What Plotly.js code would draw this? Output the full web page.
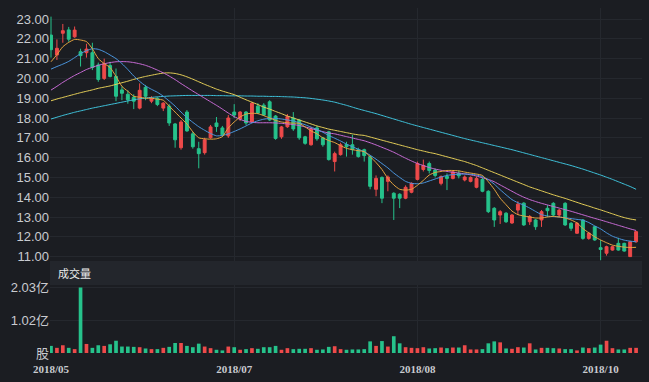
<!DOCTYPE html>
<html><head><meta charset="utf-8">
<script src="https://cdn.plot.ly/plotly-3.0.1.min.js"></script>
<style>html,body{margin:0;padding:0;background:#1b1d22;}#chart{width:649px;height:382px;}</style>
</head><body><div id="chart"></div>
<script>
const dates = [
'2018-05-24','2018-05-25','2018-05-28','2018-05-29','2018-05-30','2018-05-31',
'2018-06-01','2018-06-04','2018-06-05','2018-06-06','2018-06-07','2018-06-08','2018-06-11','2018-06-12','2018-06-13','2018-06-14','2018-06-15','2018-06-19','2018-06-20','2018-06-21','2018-06-22','2018-06-25','2018-06-26','2018-06-27','2018-06-28','2018-06-29',
'2018-07-02','2018-07-03','2018-07-04','2018-07-05','2018-07-06','2018-07-09','2018-07-10','2018-07-11','2018-07-12','2018-07-13','2018-07-16','2018-07-17','2018-07-18','2018-07-19','2018-07-20','2018-07-23','2018-07-24','2018-07-25','2018-07-26','2018-07-27','2018-07-30','2018-07-31',
'2018-08-01','2018-08-02','2018-08-03','2018-08-06','2018-08-07','2018-08-08','2018-08-09','2018-08-10','2018-08-13','2018-08-14','2018-08-15','2018-08-16','2018-08-17','2018-08-20','2018-08-21','2018-08-22','2018-08-23','2018-08-24','2018-08-27','2018-08-28','2018-08-29','2018-08-30','2018-08-31',
'2018-09-03','2018-09-04','2018-09-05','2018-09-06','2018-09-07','2018-09-10','2018-09-11','2018-09-12','2018-09-13','2018-09-14','2018-09-17','2018-09-18','2018-09-19','2018-09-20','2018-09-21','2018-09-25','2018-09-26','2018-09-27','2018-09-28',
'2018-10-08','2018-10-09','2018-10-10','2018-10-11','2018-10-12','2018-10-15','2018-10-16','2018-10-17','2018-10-18','2018-10-19'];

const openP = [22.19,21.18,22.28,22.45,22.10,21.35,21.30,21.30,20.68,20.00,
 20.65,20.10,19.42,19.20,19.05,18.50,19.55,18.85,19.00,18.50,
 18.60,17.70,16.50,18.30,17.20,16.45,16.25,17.00,17.75,17.50,
 17.10,18.30,17.95,18.30,17.80,18.60,18.65,18.82,18.10,17.05,
 17.56,18.00,17.90,17.05,16.65,17.50,17.00,17.30,15.80,16.15,
 16.66,16.65,16.40,16.40,16.05,14.40,15.00,14.80,14.20,14.15,
 13.95,14.25,14.90,15.40,15.70,15.37,14.70,15.05,14.95,15.20,
 14.87,14.80,14.50,14.90,14.30,13.44,13.10,13.19,12.70,13.35,
 13.70,12.76,12.85,12.85,13.44,13.69,13.10,13.69,12.68,12.18,
 12.85,11.92,12.51,11.45,11.17,11.33,11.67,11.67,11.00,11.75];
const highP = [23.12,21.97,22.75,22.60,22.62,21.50,21.75,21.80,20.80,21.00,
 20.84,20.50,19.60,19.40,19.20,19.75,19.67,19.10,19.05,18.80,
 18.70,17.75,17.90,18.40,17.30,16.80,17.00,17.65,18.05,17.60,
 18.15,18.70,18.35,18.35,18.80,18.75,18.75,18.90,18.15,17.60,
 18.20,18.30,17.95,17.10,17.55,17.60,17.05,17.35,16.30,16.75,
 16.80,17.15,16.50,16.45,16.10,15.10,15.05,15.10,14.25,14.20,
 14.60,14.75,15.80,15.90,15.80,15.45,15.10,15.20,15.35,15.35,
 15.10,15.05,15.05,15.00,14.35,13.50,13.35,13.25,13.15,13.80,
 13.75,13.10,12.90,13.35,13.60,13.75,13.40,13.75,12.75,12.75,
 12.90,12.25,12.55,11.84,11.55,11.55,11.95,11.70,11.80,12.30];
const lowP = [21.05,20.93,21.80,21.85,22.05,20.60,21.05,20.42,19.83,19.92,
 20.05,18.85,18.90,18.72,18.45,18.44,18.90,18.75,18.60,18.35,
 17.60,16.50,16.40,17.30,16.45,15.46,16.15,16.95,17.30,17.05,
 17.00,18.00,17.85,17.65,17.75,18.20,18.10,17.85,16.90,16.95,
 17.50,17.35,16.90,16.65,16.60,16.85,16.55,15.85,15.30,16.10,
 16.05,16.15,16.00,15.80,14.40,14.05,13.70,14.30,12.85,13.45,
 13.90,14.20,14.85,15.30,15.20,15.00,14.60,14.36,14.90,14.95,
 14.80,14.75,14.45,14.25,13.20,12.50,12.65,12.70,12.65,13.10,
 12.55,12.60,12.35,12.50,13.00,13.05,13.00,12.55,12.30,12.15,
 11.85,11.85,11.80,10.82,11.05,11.30,11.30,11.25,10.98,11.70];
const closeP = [21.45,21.52,22.41,21.98,22.44,21.15,21.48,20.55,19.95,20.75,
 20.10,19.10,19.25,18.92,18.85,19.40,19.10,19.00,18.68,18.75,
 17.75,16.90,17.80,17.35,16.55,16.20,16.90,17.55,17.57,17.15,
 18.00,18.15,18.30,17.75,18.75,18.25,18.15,17.90,16.97,17.55,
 18.07,17.45,17.00,16.72,17.45,16.95,16.65,15.90,16.20,16.65,
 16.55,16.40,16.05,16.10,14.55,14.95,13.95,15.02,13.95,13.95,
 14.50,14.70,15.70,15.60,15.35,15.10,15.04,14.95,15.28,15.08,
 15.02,15.00,14.95,14.30,13.27,12.85,13.27,12.76,13.10,13.65,
 12.60,13.02,12.51,13.27,13.32,13.10,13.35,12.60,12.43,12.68,
 11.92,12.18,11.84,11.36,11.50,11.50,11.33,11.28,11.75,12.26];

// volume in 亿股
const volume = [0.22,0.16,0.24,0.16,0.12,2.03,0.28,0.16,0.24,0.22,
 0.27,0.38,0.20,0.20,0.19,0.18,0.14,0.12,0.12,0.16,
 0.19,0.31,0.31,0.22,0.18,0.29,0.20,0.15,0.10,0.08,
 0.20,0.18,0.10,0.12,0.15,0.13,0.18,0.18,0.22,0.10,
 0.15,0.12,0.13,0.13,0.15,0.10,0.11,0.19,0.21,0.12,
 0.10,0.11,0.11,0.12,0.36,0.22,0.37,0.20,0.52,0.30,
 0.18,0.16,0.15,0.18,0.14,0.15,0.17,0.15,0.17,0.17,
 0.24,0.11,0.11,0.12,0.30,0.36,0.33,0.14,0.13,0.18,
 0.17,0.30,0.11,0.16,0.16,0.15,0.14,0.12,0.12,0.08,
 0.17,0.15,0.17,0.26,0.38,0.15,0.11,0.11,0.16,0.16];

const ma5 = [20.84,21.20,21.60,21.82,21.97,21.94,21.86,21.50,21.00,20.75,
 20.55,20.10,19.60,19.35,19.10,19.05,19.00,19.00,18.95,18.90,
 18.60,18.30,18.00,17.70,17.30,17.00,16.95,16.93,16.95,17.06,
 17.50,17.80,18.05,18.20,18.24,18.22,18.12,18.00,17.88,17.80,
 17.76,17.74,17.73,17.55,17.35,17.20,17.00,16.86,16.76,16.60,
 16.47,16.40,16.35,16.30,16.05,15.75,15.40,14.95,14.62,14.40,
 14.36,14.40,14.60,14.85,15.12,15.25,15.30,15.35,15.35,15.33,
 15.27,15.22,15.17,15.10,14.78,14.40,13.95,13.62,13.30,13.12,
 13.05,13.00,12.95,12.95,13.00,13.03,13.00,12.95,12.85,12.70,
 12.42,12.20,12.00,11.84,11.70,11.58,11.52,11.48,11.46,11.47];
const ma10 = [20.47,20.60,20.72,20.86,21.05,21.25,21.40,21.50,21.47,21.35,
 21.18,21.00,20.75,20.45,20.12,19.85,19.62,19.45,19.30,19.10,
 18.86,18.60,18.30,18.02,17.78,17.56,17.38,17.22,17.10,17.12,
 17.20,17.32,17.45,17.60,17.75,17.86,17.94,17.98,17.98,17.95,
 17.90,17.85,17.76,17.66,17.54,17.42,17.28,17.12,16.98,16.84,
 16.68,16.55,16.42,16.30,16.12,15.92,15.70,15.48,15.22,15.00,
 14.80,14.70,14.68,14.72,14.82,14.92,15.02,15.10,15.14,15.16,
 15.17,15.16,15.12,15.04,14.88,14.66,14.38,14.12,13.88,13.72,
 13.60,13.45,13.28,13.12,13.05,13.02,13.00,12.96,12.92,12.88,
 12.84,12.72,12.55,12.40,12.20,12.03,11.92,11.83,11.78,11.75];
const ma20 = [19.41,19.60,19.80,19.98,20.15,20.30,20.45,20.56,20.66,20.74,
 20.80,20.84,20.85,20.84,20.80,20.74,20.66,20.55,20.42,20.28,
 20.12,19.94,19.74,19.55,19.36,19.18,19.00,18.82,18.64,18.45,
 18.25,18.07,17.93,17.83,17.78,17.76,17.76,17.76,17.75,17.73,
 17.70,17.67,17.62,17.55,17.47,17.39,17.31,17.24,17.20,17.13,
 17.06,16.99,16.92,16.85,16.75,16.64,16.52,16.40,16.27,16.12,
 15.97,15.83,15.70,15.60,15.50,15.42,15.36,15.30,15.26,15.22,
 15.18,15.13,15.07,14.98,14.90,14.78,14.62,14.46,14.30,14.14,
 14.00,13.88,13.78,13.69,13.61,13.53,13.45,13.37,13.29,13.20,
 13.11,13.02,12.93,12.85,12.76,12.67,12.58,12.49,12.40,12.32];
const ma30 = [18.87,18.96,19.04,19.12,19.20,19.28,19.35,19.42,19.50,19.56,
 19.62,19.70,19.78,19.86,19.95,20.03,20.10,20.16,20.22,20.27,
 20.28,20.25,20.18,20.08,19.96,19.83,19.70,19.58,19.46,19.36,
 19.27,19.18,19.05,18.92,18.80,18.68,18.55,18.45,18.33,18.22,
 18.10,18.00,17.90,17.80,17.70,17.60,17.52,17.44,17.38,17.32,
 17.26,17.20,17.15,17.12,17.04,16.96,16.88,16.80,16.72,16.64,
 16.56,16.48,16.40,16.33,16.26,16.20,16.12,16.04,15.96,15.88,
 15.80,15.70,15.60,15.48,15.36,15.24,15.12,15.00,14.88,14.76,
 14.64,14.52,14.42,14.32,14.22,14.12,14.03,13.94,13.84,13.74,
 13.64,13.55,13.45,13.36,13.26,13.16,13.06,12.97,12.90,12.85];
const ma60 = [17.95,18.04,18.13,18.21,18.29,18.36,18.43,18.50,18.56,18.62,
 18.68,18.74,18.80,18.86,18.92,18.97,19.01,19.04,19.07,19.09,
 19.11,19.12,19.13,19.14,19.14,19.14,19.14,19.14,19.13,19.13,
 19.12,19.12,19.12,19.11,19.11,19.10,19.10,19.09,19.09,19.08,
 19.07,19.06,19.04,19.02,18.99,18.95,18.91,18.86,18.80,18.72,
 18.64,18.55,18.46,18.38,18.30,18.22,18.13,18.04,17.95,17.86,
 17.77,17.68,17.60,17.52,17.44,17.36,17.28,17.20,17.12,17.04,
 16.96,16.89,16.82,16.75,16.68,16.61,16.54,16.47,16.40,16.32,
 16.24,16.16,16.08,16.00,15.92,15.84,15.76,15.68,15.60,15.51,
 15.42,15.32,15.22,15.12,15.01,14.90,14.78,14.66,14.54,14.40];

const priceTicks = [11,12,13,14,15,16,17,18,19,20,21,22,23];
const volTickVals = [0, 1.015, 2.03];
const volTickText = ['股', '1.02亿', '2.03亿'];
const xTickIdx = [0, 31, 62, 93];

const BG = '#1b1d22';
const GRID = '#25282e';
const UP = '#ee4a4a';
const DOWN = '#26c28b';
const TXT = '#c9cbd0';
const FONT = '"Liberation Sans", Arial, "Noto Sans CJK SC", sans-serif';

const xTickVals = xTickIdx.map(i => dates[i]);
const xTickText = xTickVals.map(d => d.slice(0,7).replace('-', '/'));
const volColors = closeP.map((c, i) => c >= openP[i] ? UP : DOWN);

const maLine = (y, color) => ({type:'scatter', mode:'lines', x: dates, y: y, xaxis:'x', yaxis:'y',
  line:{color: color, width: 1, shape:'spline', smoothing: 0.6}, hoverinfo:'skip'});

const traces = [
  {type:'candlestick', x: dates, open: openP, high: highP, low: lowP, close: closeP, xaxis:'x', yaxis:'y',
   increasing:{line:{color:UP, width:1}, fillcolor:UP},
   decreasing:{line:{color:DOWN, width:1}, fillcolor:DOWN},
   whiskerwidth: 0, hoverinfo:'skip'},
  maLine(ma60, '#3fc3dc'),
  maLine(ma30, '#e6cf58'),
  maLine(ma20, '#c96bd6'),
  maLine(ma10, '#4b97e0'),
  maLine(ma5, '#e6a540'),
  {type:'bar', x: dates, y: volume, xaxis:'x', yaxis:'y2', marker:{color: volColors, line:{width:0}}, width: 0.62, hoverinfo:'skip'}
];

const px = v => 1 - v/382;
const layout = {
  width: 649, height: 382,
  paper_bgcolor: BG, plot_bgcolor: BG,
  margin: {l:50, r:7, t:0, b:0, pad:0},
  showlegend: false,
  font: {family: FONT, color: TXT, size: 12},
  xaxis: {type:'category', range:[-0.17, 100], anchor:'y2', tickmode:'array', tickvals: xTickVals, ticktext: xTickText,
    showgrid:true, gridcolor: GRID, gridwidth:1, zeroline:false, showline:false, ticks:'', ticklabelstandoff: 8,
    tickfont:{size:11, color: TXT, family:'"Liberation Serif", serif', weight:'bold'}, rangeslider:{visible:false}, fixedrange:true},
  yaxis: {domain:[px(261), px(8)], range:[10.778, 23.556], tickmode:'array', tickvals: priceTicks, ticktext: priceTicks.map(v=>v.toFixed(2)),
    showgrid:true, gridcolor: GRID, zeroline:false, showline:false, ticks:'', tickfont:{size:13, color: TXT}, fixedrange:true},
  yaxis2: {domain:[px(353), px(285)], range:[0, 2.107], tickmode:'array', tickvals: volTickVals, ticktext: volTickText,
    showgrid:true, gridcolor: GRID, zeroline:false, showline:false, ticks:'', tickfont:{size:13, color: TXT}, fixedrange:true},
  bargap: 0.38,
  shapes: [
    {type:'rect', xref:'paper', yref:'paper', x0:0, x1:1, y0: px(285), y1: px(261), fillcolor:'#23262c', line:{width:0}, layer:'below'}
  ],
  annotations: [
    {text:'成交量', xref:'paper', yref:'paper', x:0.01, y: px(273), xanchor:'left', yanchor:'middle', showarrow:false,
     font:{size:11, color:'#ececec', family:'"Noto Sans CJK SC", sans-serif'}}
  ]
};

Plotly.newPlot('chart', traces, layout, {displayModeBar:false, staticPlot:true});
</script>
</body></html>
